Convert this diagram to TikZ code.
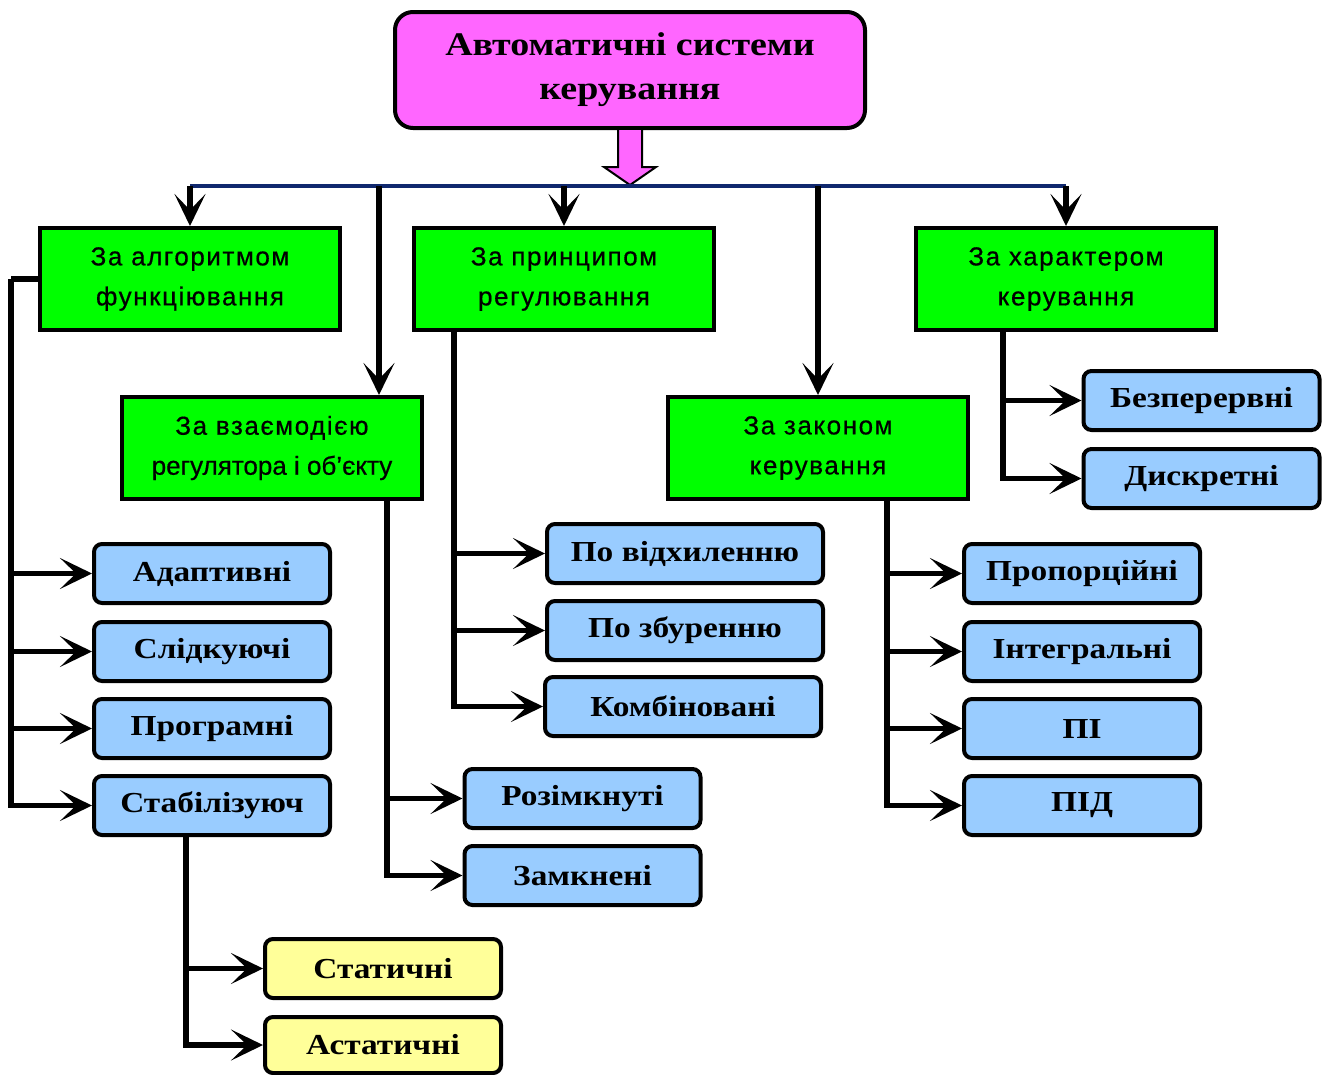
\documentclass[tikz,border=0pt]{standalone}
\usepackage{fontspec}
\setmainfont{Liberation Serif}
\newfontfamily\bxfont[FakeStretch=1.15]{Liberation Serif}
\newfontfamily\grfont[LetterSpace=6,FakeBold=0.6]{Liberation Sans}
\newfontfamily\grtight[LetterSpace=0,FakeBold=0.6]{Liberation Sans}
\usetikzlibrary{arrows.meta,calc}
\definecolor{topmag}{RGB}{255,102,255}
\definecolor{grn}{RGB}{0,255,0}
\definecolor{blu}{RGB}{153,204,255}
\definecolor{yel}{RGB}{255,255,153}
\definecolor{busc}{RGB}{16,40,110}
\begin{document}
\begin{tikzpicture}[x=1pt,y=-1pt,
  topbox/.style={draw=black,line width=4pt,rounded corners=18pt,fill=topmag,minimum width=470pt,minimum height=116pt,align=center,font=\bxfont\bfseries\fontsize{33}{44}\selectfont},
  grbox/.style={draw=black,line width=4pt,fill=grn,minimum width=300pt,minimum height=102pt,align=center,font=\grfont\fontsize{26}{40}\selectfont},
  leaf/.style={draw=black,line width=4pt,rounded corners=8pt,minimum width=236pt,minimum height=59pt,inner sep=0pt,font=\bxfont\bfseries\fontsize{29}{30}\selectfont},
  bleaf/.style={leaf,fill=blu},
  yleaf/.style={leaf,fill=yel},
  conn/.style={draw=black,line width=5.5pt,-{Stealth[length=32pt,width=31pt,inset=16pt]}},
  trunk/.style={draw=black,line width=5.5pt}
]
\useasboundingbox (0,0) rectangle (1322,1074);

% top
\node[topbox] (top) at (630,70) {Автоматичні системи\\керування};
% block arrow
\draw[fill=topmag,line width=2pt,line join=miter]
  ($(top.south)+(-12,0)$) -- ($(top.south)+(-12,37)$) -- ($(top.south)+(-26,37)$)
  -- ($(top.south)+(0,55)$) -- ($(top.south)+(26,37)$) -- ($(top.south)+(12,37)$)
  -- ($(top.south)+(12,0)$);

% green boxes
\node[grbox] (g1) at (190,279) {За алгоритмом\\функціювання};
\node[grbox] (g2) at (564,279) {За принципом\\регулювання};
\node[grbox] (g3) at (1066,279) {За характером\\керування};
\node[grbox] (g4) at (272,448) {За взаємодією\\{\grtight регулятора і об’єкту}};
\node[grbox] (g5) at (818,448) {За законом\\керування};

% bus
\coordinate (bus) at (630,186);
\draw[busc,line width=4pt] (g1.north |- bus) -- (g3.north |- bus);
\coordinate (g4in) at ($(g4.north east)+(-45,0)$);
\draw[conn] (g1.north |- bus) -- (g1.north);
\draw[conn] (g4in |- bus) -- (g4in);
\draw[conn] (g2.north |- bus) -- (g2.north);
\draw[conn] (g5.north |- bus) -- (g5.north);
\draw[conn] (g3.north |- bus) -- (g3.north);

% leaves
\node[bleaf] (adapt) at (212,573.5) {Адаптивні};
\node[bleaf] (slid) at (212,651.5) {Слідкуючі};
\node[bleaf] (prog) at (212,728.5) {Програмні};
\node[bleaf] (stab) at (212,805.5) {Стабілізуюч};
\node[yleaf] (stat) at (383,968.5) {Статичні};
\node[yleaf,minimum height=56pt] (astat) at (383,1045) {Астатичні};
\node[bleaf] (rozim) at (582.5,798.5) {Розімкнуті};
\node[bleaf] (zamk) at (582.5,875.5) {Замкнені};
\node[bleaf,minimum width=276pt] (vidh) at (685,553.5) {По відхиленню};
\node[bleaf,minimum width=276pt] (zbur) at (685,630.5) {По збуренню};
\node[bleaf,minimum width=276pt] (komb) at (683,706.5) {Комбіновані};
\node[bleaf] (prop) at (1082,573.5) {Пропорційні};
\node[bleaf] (integ) at (1082,651.5) {Інтегральні};
\node[bleaf] (pi) at (1082,728.5) {ПІ};
\node[bleaf] (pid) at (1082,805.5) {ПІД};
\node[bleaf] (bezp) at (1201.5,400.5) {Безперервні};
\node[bleaf] (diskr) at (1201.5,478.5) {Дискретні};

% tree from g1
\draw[trunk] (g1.west) -- ++(-27,0) coordinate (t1);
\draw[conn] (t1) |- (adapt.west);
\draw[conn] (t1) |- (slid.west);
\draw[conn] (t1) |- (prog.west);
\draw[conn] (t1) |- (stab.west);
% tree from stab
\coordinate (t2) at ($(stab.south)+(-26,0)$);
\draw[conn] (t2) |- (stat.west);
\draw[conn] (t2) |- (astat.west);
% tree from g4
\coordinate (t3) at ($(g4.south east)+(-37,0)$);
\draw[conn] (t3) |- (rozim.west);
\draw[conn] (t3) |- (zamk.west);
% tree from g2
\coordinate (t4) at ($(g2.south west)+(42,0)$);
\draw[conn] (t4) |- (vidh.west);
\draw[conn] (t4) |- (zbur.west);
\draw[conn] (t4) |- (komb.west);
% tree from g5
\coordinate (t5) at ($(g5.south east)+(-83,0)$);
\draw[conn] (t5) |- (prop.west);
\draw[conn] (t5) |- (integ.west);
\draw[conn] (t5) |- (pi.west);
\draw[conn] (t5) |- (pid.west);
% tree from g3
\coordinate (t6) at ($(g3.south west)+(89,0)$);
\draw[conn] (t6) |- (bezp.west);
\draw[conn] (t6) |- (diskr.west);
\end{tikzpicture}
\end{document}
